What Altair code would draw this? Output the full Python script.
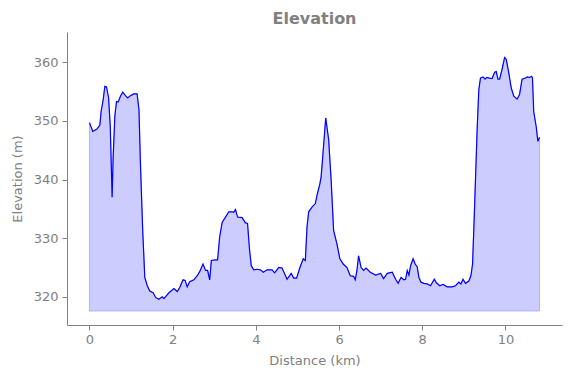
import altair as alt
import pandas as pd

dist = [0, 0.08, 0.18, 0.25, 0.28, 0.33, 0.37, 0.41, 0.46, 0.50, 0.545, 0.57, 0.61, 0.65, 0.69,
        0.745, 0.80, 0.865, 0.92, 0.985, 1.065, 1.145, 1.19, 1.225, 1.28, 1.33, 1.39, 1.45, 1.53,
        1.59, 1.67, 1.75, 1.79, 1.91, 2.03, 2.11, 2.17, 2.25, 2.30, 2.35, 2.41, 2.51, 2.59, 2.65,
        2.73, 2.79, 2.84, 2.89, 2.93, 3.03, 3.08, 3.13, 3.19, 3.27, 3.35, 3.43, 3.47, 3.51, 3.56,
        3.67, 3.75, 3.80, 3.85, 3.89, 3.95, 4.03, 4.11, 4.18, 4.27, 4.39, 4.45, 4.55, 4.63, 4.75,
        4.85, 4.91, 4.98, 5.06, 5.14, 5.19, 5.23, 5.27, 5.35, 5.43, 5.47, 5.54, 5.57, 5.62, 5.68,
        5.75, 5.81, 5.87, 5.95, 6.02, 6.10, 6.19, 6.27, 6.35, 6.39, 6.43, 6.47, 6.53, 6.59, 6.65,
        6.75, 6.88, 7.00, 7.07, 7.16, 7.28, 7.36, 7.42, 7.49, 7.56, 7.60, 7.64, 7.68, 7.72, 7.78,
        7.83, 7.88, 7.92, 7.97, 8.04, 8.12, 8.20, 8.29, 8.34, 8.42, 8.50, 8.60, 8.72, 8.80, 8.88,
        8.93, 8.98, 9.04, 9.12, 9.17, 9.21, 9.25, 9.32, 9.36, 9.40, 9.46, 9.51, 9.55, 9.61, 9.68,
        9.74, 9.78, 9.82, 9.86, 9.92, 9.98, 10.02, 10.08, 10.14, 10.20, 10.28, 10.34, 10.40, 10.48,
        10.53, 10.58, 10.63, 10.65, 10.68, 10.74, 10.78, 10.82]

elev = [349.7, 348.2, 348.6, 349.3, 351.6, 353.6, 355.9, 355.8, 353.9, 349.0, 337.0, 343.9, 350.8,
        353.3, 353.2, 354.2, 354.9, 354.3, 353.9, 354.3, 354.6, 354.6, 351.9, 342.8, 331.3, 323.3,
        321.9, 321.0, 320.7, 319.9, 319.6, 320.0, 319.7, 320.7, 321.4, 320.9, 321.6, 322.9, 322.8,
        321.7, 322.6, 322.9, 323.6, 324.3, 325.6, 324.5, 324.5, 322.9, 326.2, 326.3, 326.3, 330.2,
        332.7, 333.6, 334.5, 334.5, 334.4, 334.9, 333.6, 333.5, 332.6, 332.5, 327.9, 325.3, 324.6,
        324.7, 324.6, 324.2, 324.6, 324.6, 324.1, 325.0, 324.9, 323.0, 324.0, 323.2, 323.2, 325.0,
        326.5, 326.2, 331.9, 334.5, 335.3, 335.9, 337.3, 339.3, 340.5, 345.0, 350.5, 346.8, 339.9,
        331.3, 329.0, 326.5, 325.6, 325.0, 323.6, 323.5, 322.9, 324.5, 327.0, 325.0, 324.5, 324.9,
        324.2, 323.7, 324.0, 323.1, 324.0, 324.2, 323.0, 322.3, 323.3, 322.9, 323.0, 324.5, 323.7,
        325.3, 326.5, 325.6, 325.1, 323.3, 322.5, 322.3, 322.2, 321.9, 323.0, 322.4, 321.9, 322.1,
        321.7, 321.7, 321.9, 322.5, 322.2, 323.0, 322.3, 322.7, 323.6, 325.6, 333.6, 348.5, 355.3,
        357.3, 357.5, 357.1, 357.4, 357.3, 357.2, 358.3, 358.4, 357.1, 357.1, 358.8, 360.8, 360.5,
        358.2, 355.6, 354.2, 353.7, 354.5, 357.1, 357.3, 357.5, 357.4, 357.6, 357.3, 351.6, 349.0,
        346.5, 347.2]

base = 317.6

df = pd.DataFrame({"dist": dist, "elev": elev})
df["base"] = base

gray = "#808080"
font = "DejaVu Sans"

x = alt.X("dist:Q", scale=alt.Scale(domain=[-0.54, 11.36], nice=False, zero=False),
          axis=alt.Axis(title="Distance (km)", values=[0, 2, 4, 6, 8, 10], format="d",
                        grid=False, domainColor=gray, tickColor=gray, labelColor=gray,
                        titleColor=gray, labelFont=font, titleFont=font, labelFontSize=13,
                        titleFontSize=13, titleFontWeight="normal", tickSize=5, labelPadding=3,
                        titlePadding=8))
y = alt.Y("elev:Q", scale=alt.Scale(domain=[315.2, 365.15], nice=False, zero=False),
          axis=alt.Axis(title="Elevation (m)", values=[320, 330, 340, 350, 360],
                        grid=False, domainColor=gray, tickColor=gray, labelColor=gray,
                        titleColor=gray, labelFont=font, titleFont=font, labelFontSize=13,
                        titleFontSize=13, titleFontWeight="normal", tickSize=5, labelPadding=4,
                        titlePadding=9))

area = alt.Chart(df).mark_area(color="#ccccff", stroke="#b0b0ff", strokeWidth=1, opacity=1).encode(
    x=x, y=y, y2="base:Q")
line = alt.Chart(df).mark_line(color="#0000ff", strokeWidth=1.2).encode(x=x, y=y)

chart = (area + line).properties(
    width=495, height=293,
    title=alt.TitleParams("Elevation", font=font, fontSize=16, fontWeight="bold", color=gray,
                          anchor="middle", offset=5),
    autosize=alt.AutoSizeParams(type="none"),
    padding={"left": 59, "top": 24, "right": 1, "bottom": 44},
).configure_view(stroke=None)

chart.save("out.html", embed_options={"renderer": "svg", "actions": False})
